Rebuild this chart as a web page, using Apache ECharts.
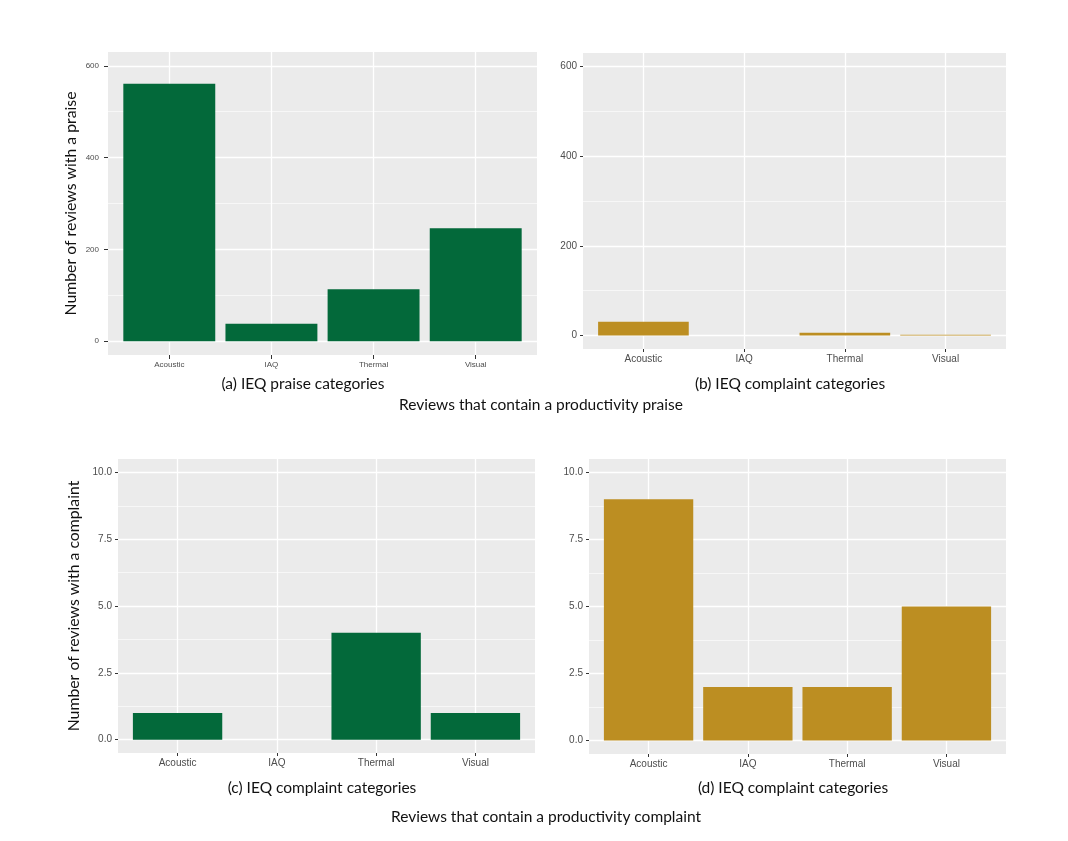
<!DOCTYPE html>
<html><head><meta charset="utf-8">
<script src="https://cdn.jsdelivr.net/npm/echarts@6/dist/echarts.min.js"></script>
<style>html,body{margin:0;padding:0;background:#fff}#c{width:1068px;height:841px}</style>
</head><body><div id="c"></div>
<script>
// ---- data ----
const categories = ['Acoustic', 'IAQ', 'Thermal', 'Visual'];
const praiseByPraiseCat = [561, 38, 113, 246];      // (a)
const praiseByComplaintCat = [31, 0, 6, 2];         // (b)
const complaintByComplaintCatC = [1, 0, 4, 1];      // (c)
const complaintByComplaintCatD = [9, 2, 2, 5];      // (d)
const countMajorTicks = [0, 200, 400, 600];
const countMinorTicks = [100, 300, 500];
const smallMajorTicks = [0, 2.5, 5, 7.5, 10];
const smallMinorTicks = [1.25, 3.75, 6.25, 8.75];
const yTitles = ['Number of reviews with a praise', 'Number of reviews with a complaint'];
const panelCaptions = ['(a) IEQ praise categories', '(b) IEQ complaint categories',
                       '(c) IEQ complaint categories', '(d) IEQ complaint categories'];
const rowCaptions = ['Reviews that contain a productivity praise', 'Reviews that contain a productivity complaint'];

// ---- styling ----
const GREEN = '#03693A';
const GOLD = '#BC8E22';
const PANEL_BG = '#EBEBEB';
const AXIS_TEXT = '#4D4D4D';
const CAPTION_FONT = 'Lato, "Open Sans", sans-serif';
const AXIS_FONT = '"Liberation Sans", Arial, sans-serif';

const panels = [
  {grid: {left: 108, top: 52, width: 429, height: 303}, values: praiseByPraiseCat, color: GREEN,
   min: -30, max: 630, major: countMajorTicks, minor: countMinorTicks, fmt: v => String(v),
   font: 8, yName: yTitles[0], nameGap: 29, yMargin: 9, xMargin: 6, tickLen: 4},
  {grid: {left: 583, top: 53, width: 423, height: 296}, values: praiseByComplaintCat, color: GOLD,
   min: -30, max: 630, major: countMajorTicks, minor: countMinorTicks, fmt: v => String(v),
   font: 10, yName: '', nameGap: 0, yMargin: 6, xMargin: 5, tickLen: 3},
  {grid: {left: 118, top: 459, width: 417, height: 294}, values: complaintByComplaintCatC, color: GREEN,
   min: -0.5, max: 10.5, major: smallMajorTicks, minor: smallMinorTicks, fmt: v => Number(v).toFixed(1),
   font: 10, yName: yTitles[1], nameGap: 36, yMargin: 6, xMargin: 5, tickLen: 3},
  {grid: {left: 589, top: 459, width: 417, height: 295}, values: complaintByComplaintCatD, color: GOLD,
   min: -0.5, max: 10.5, major: smallMajorTicks, minor: smallMinorTicks, fmt: v => Number(v).toFixed(1),
   font: 10, yName: '', nameGap: 0, yMargin: 6, xMargin: 5, tickLen: 3}
];

const catPositions = categories.map((c, i) => i + 1);

const grid = [], xAxis = [], yAxis = [], series = [];
panels.forEach((p, i) => {
  grid.push(Object.assign({show: true, backgroundColor: PANEL_BG, borderWidth: 0, containLabel: false}, p.grid));
  xAxis.push({
    type: 'value', gridIndex: i, min: 0.4, max: 4.6, position: 'bottom',
    axisLine: {show: false, onZero: false},
    axisTick: {show: true, length: p.tickLen, customValues: catPositions, lineStyle: {color: '#333333', width: 1}},
    axisLabel: {show: true, customValues: catPositions, margin: p.xMargin, color: AXIS_TEXT,
      fontSize: p.font, fontFamily: AXIS_FONT, formatter: v => categories[Math.round(v) - 1]},
    splitLine: {show: true, lineStyle: {color: '#FFFFFF', width: 1.3}}
  });
  yAxis.push({
    type: 'value', gridIndex: i, min: p.min, max: p.max, position: 'left',
    name: p.yName, nameLocation: 'middle', nameGap: p.nameGap, nameRotate: 90,
    nameTextStyle: {fontFamily: CAPTION_FONT, fontSize: 15.8, color: '#111111'},
    axisLine: {show: false, onZero: false},
    axisTick: {show: true, length: p.tickLen, customValues: p.major, lineStyle: {color: '#333333', width: 1}},
    axisLabel: {show: true, customValues: p.major, margin: p.yMargin, color: AXIS_TEXT,
      fontSize: p.font, fontFamily: AXIS_FONT, formatter: p.fmt},
    splitLine: {show: true, lineStyle: {color: '#FFFFFF', width: 1.3}}
  });
  series.push({
    type: 'bar', xAxisIndex: i, yAxisIndex: i, barWidth: '90%', z: 5,
    itemStyle: {color: p.color},
    data: categories.map((c, k) => [catPositions[k], p.values[k]])
  });
});
// minor grid lines
panels.forEach((p, i) => {
  yAxis.push({
    type: 'value', gridIndex: i, min: p.min, max: p.max, position: 'left',
    axisLine: {show: false, onZero: false},
    axisTick: {show: false, customValues: p.minor},
    axisLabel: {show: false, customValues: p.minor},
    splitLine: {show: true, lineStyle: {color: '#FFFFFF', width: 0.6}}
  });
});

const captionPos = [[303, 384], [790, 384], [322, 788], [793, 788]];
const rowPos = [[541, 405], [546, 817]];
const graphic = [];
panelCaptions.forEach((t, i) => graphic.push({type: 'text', x: captionPos[i][0], y: captionPos[i][1],
  style: {text: t, fontFamily: CAPTION_FONT, fontSize: 15.5, fill: '#111111', textAlign: 'center', textVerticalAlign: 'middle'}}));
rowCaptions.forEach((t, i) => graphic.push({type: 'text', x: rowPos[i][0], y: rowPos[i][1],
  style: {text: t, fontFamily: CAPTION_FONT, fontSize: 15.5, fill: '#111111', textAlign: 'center', textVerticalAlign: 'middle'}}));

const chart = echarts.init(document.getElementById('c'), null, {renderer: 'canvas'});
chart.setOption({animation: false, backgroundColor: '#FFFFFF', grid, xAxis, yAxis, series, graphic});
</script></body></html>
